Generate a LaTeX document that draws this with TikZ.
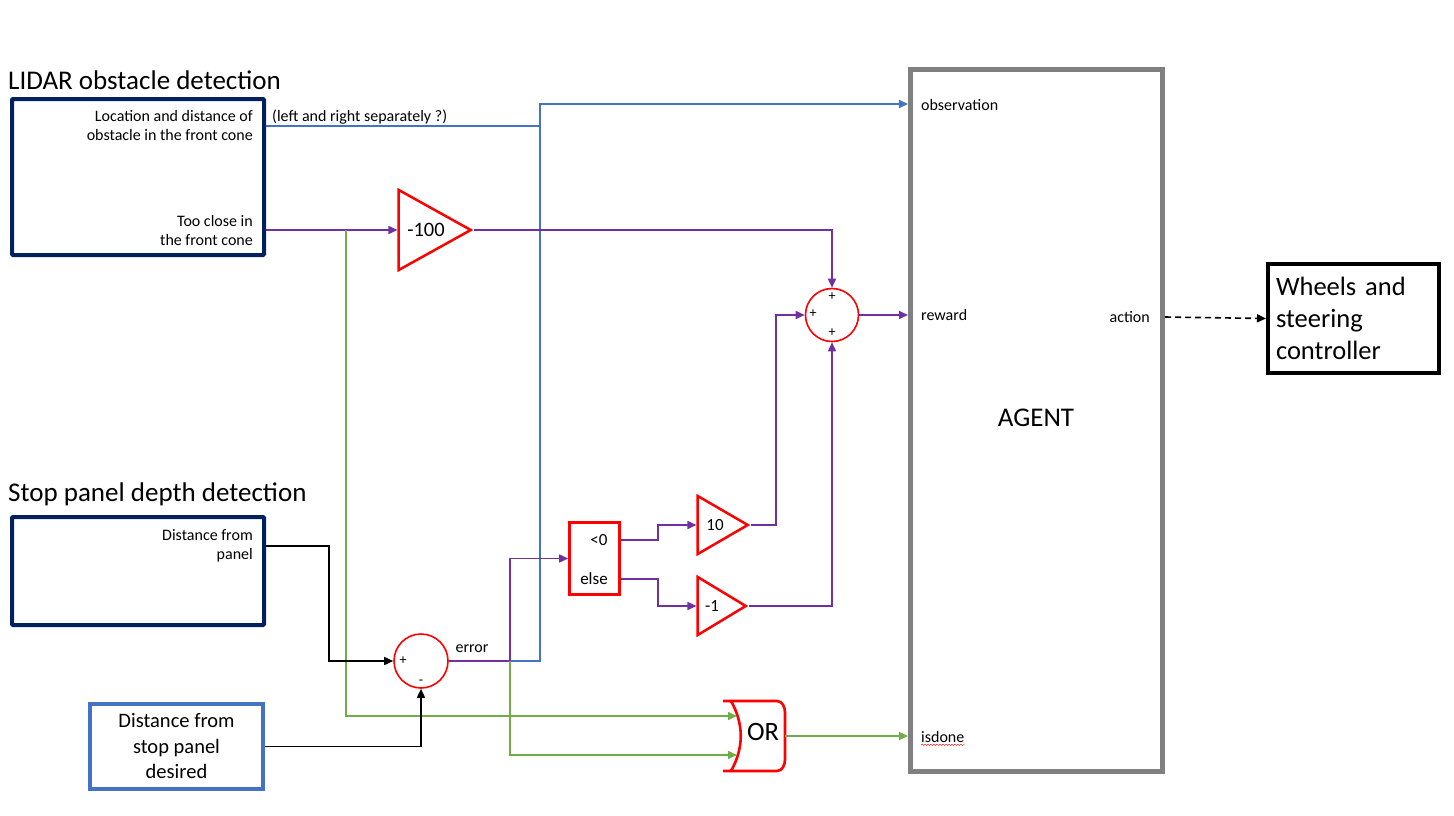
\documentclass[tikz,border=0pt]{standalone}
\usepackage{fontspec}
\setmainfont{Carlito}
\usepackage{xcolor}
\usepackage{tikz}
\usetikzlibrary{shapes.geometric,arrows.meta,decorations.pathmorphing,positioning,calc}

\definecolor{navy}{HTML}{002060}
\definecolor{lblue}{HTML}{4472C4}
\definecolor{purp}{HTML}{7030A0}
\definecolor{grn}{HTML}{70AD47}
\definecolor{agray}{HTML}{808080}

\begin{document}
\begin{tikzpicture}[>={Stealth[length=9pt,width=8pt,inset=0pt]},x=1pt,y=-1pt,
sensor/.style={draw=navy,line width=4pt,rounded corners=1pt,minimum width=252pt},
gain/.style={isosceles triangle,isosceles triangle stretches,draw=red,line width=2.5pt,inner sep=0pt,anchor=apex},
sumnode/.style={circle,draw=red,line width=1.6pt,inner sep=0pt},
small/.style={font=\fontsize{16}{19}\selectfont,inner sep=0pt},
title/.style={font=\fontsize{27}{30}\selectfont,anchor=west,inner sep=0pt},
sign/.style={font=\fontsize{14}{14}\selectfont,inner sep=0pt},
wire/.style={line width=1.6pt},
]
\useasboundingbox (0,0) rectangle (1454,816);

% sensors
\node[title] (lidt) at (8,80) {LIDAR obstacle detection};
\node[sensor,minimum height=156pt] (lidar) at (138,177) {};
\node[small,align=right,anchor=east] (loc) at (253,126) {Location and distance of\\obstacle in the front cone};
\node[small,align=right,anchor=east] (tc) at (253,231) {Too close in\\the front cone};
\node[small,anchor=west] (note) at (272,117) {(left and right separately ?)};

\node[title] (stopt) at (8,494) {Stop panel depth detection};
\node[sensor,minimum height=108pt] (stop) at (138,571) {};
\node[small,align=right,anchor=east] (dfp) at (253,546) {Distance from\\panel};

\node[draw=lblue,line width=4pt,minimum width=173pt,minimum height=85pt,align=center,
  font=\fontsize{20.5}{25.5}\selectfont] (desired) at (176.5,746.5) {Distance from\\stop panel\\desired};

% blocks
\node[gain,minimum width=80pt,minimum height=72pt] (g100) at (474,230) {};
\node[font=\fontsize{20.5}{24}\selectfont,inner sep=0pt] (g100t) at (426,230) {-100};
\node[gain,minimum width=58pt,minimum height=50pt] (g10) at (751,525) {};
\node[font=\fontsize{17}{20}\selectfont,inner sep=0pt] (g10t) at (715,525) {10};
\node[gain,minimum width=58pt,minimum height=48pt] (gm1) at (749,606) {};
\node[font=\fontsize{17}{20}\selectfont,inner sep=0pt] (gm1t) at (712,606) {-1};

\node[sumnode,minimum size=53pt] (sum1) at (832,315) {};
\node[sign] at (832,297) {+};
\node[sign] at (813,314) {+};
\node[sign] at (832,333) {+};

\node[sumnode,minimum size=54pt] (sum2) at (421,661) {};
\node[sign] at (403,661) {+};
\node[sign] at (421,682) {-};
\node[small] (err) at (472,649) {error};

\node[draw=red,line width=2.6pt,minimum width=50pt,minimum height=72pt] (sw) at (594.5,558.5) {};
\node[font=\fontsize{17}{17}\selectfont,inner sep=0pt] (lt) at (599,540) {<0};
\node[font=\fontsize{17}{17}\selectfont,inner sep=0pt] (els) at (594,579) {else};

% OR gate
\draw[red,line width=2.6pt] (723,701) -- (777,701) to[out=0,in=90] (785,713) -- (785,759)
  to[out=-90,in=0] (777,771) -- (723,771);
\draw[red,line width=2.6pt] (731,701) .. controls (744,724) and (744,748) .. (731,771);
\node[font=\fontsize{26.5}{26.5}\selectfont,inner sep=0pt] (or) at (763,732) {OR};
\coordinate (orin1) at (737,716);
\coordinate (orin2) at (737,755);
\coordinate (orout) at (785,736);

% agent
\node[draw=agray,line width=5pt,minimum width=252pt,minimum height=702pt] (agent) at (1036.5,420.5) {};
\node[font=\fontsize{27}{27}\selectfont,inner sep=0pt] (ag) at (1036,418) {AGENT};
\node[small,anchor=west] (obs) at (921,105) {observation};
\node[small,anchor=west] (rew) at (921,315) {reward};
\node[small,anchor=west] (isd) at (921,737) {isdone};
\node[small,anchor=east] (act) at (1150,317) {action};
\draw[red,decorate,decoration={snake,amplitude=0.7pt,segment length=3pt}]
  ([yshift=-2pt]isd.south west) -- ([yshift=-2pt]isd.south east);

\node[draw,line width=4pt,text width=155pt,inner xsep=8pt,minimum height=109pt,align=left,
  font=\fontsize{26.5}{32}\selectfont] (wheels) at (1353.5,318.5) {Wheels and\\steering\\controller};

% junctions
\coordinate (bus) at (540,104);
\coordinate (gj) at (346,230);
\coordinate (ej) at (510,661);

% connectors
\draw[wire,lblue,->] (loc.east -| lidar.east) -| (bus) -- (agent.west |- bus);
\draw[wire,lblue] (ej) -| (bus);
\draw[wire,purp,->] (g100.west -| lidar.east) -- (g100.west);
\draw[wire,grn,->] (gj) |- (orin1);
\draw[wire,purp,->] (g100.apex) -| (sum1.north);
\draw[wire,purp,->] (sum1.east) -- (agent.west |- sum1.east);
\draw[wire,purp,->] (g10.apex) -- ++(25,0) |- (sum1.west);
\draw[wire,purp,->] (gm1.apex) -| (sum1.south);
\draw[wire,purp,->] (lt.east -| sw.east) -- ++(37,0) |- (g10.west);
\draw[wire,purp,->] (els.east -| sw.east) -- ++(37,0) |- (gm1.west);
\draw[wire,purp] (sum2.east) -- (ej);
\draw[wire,purp,->] (ej) |- (sw.west);
\draw[wire,grn,->] (ej) |- (orin2);
\draw[wire,->] (dfp.east -| stop.east) -- ++(63,0) |- (sum2.west);
\draw[wire,->] (desired.east) -| (sum2.south);
\draw[wire,grn,->] (orout) -- (agent.west |- orout);
\draw[wire,dash pattern=on 6pt off 4pt,->] (act.east -| agent.east) -- (wheels.west);
\end{tikzpicture}
\end{document}
